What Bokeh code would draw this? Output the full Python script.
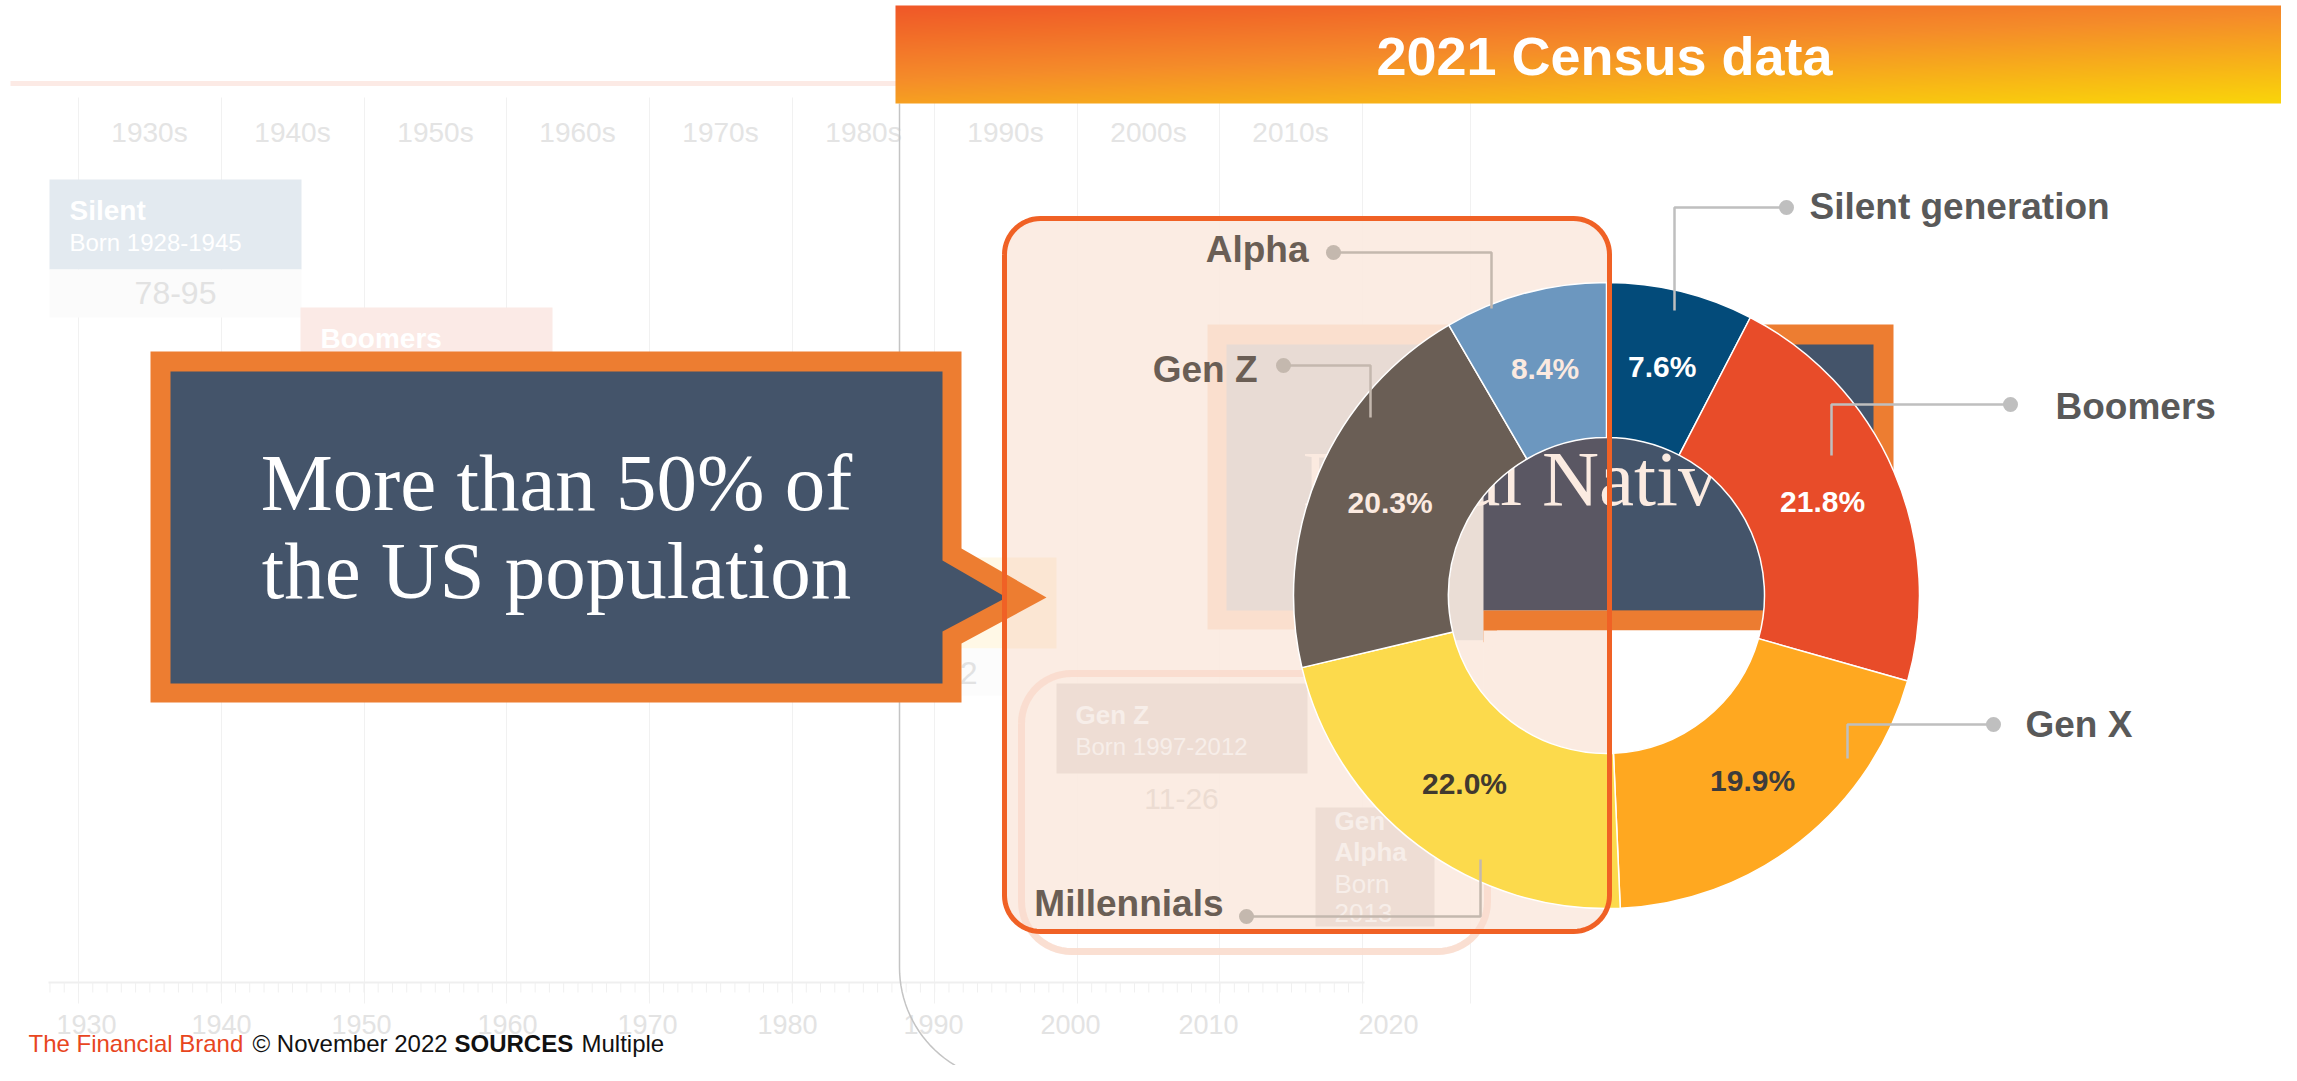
import numpy as np
from bokeh.plotting import figure
from bokeh.models import Range1d
from bokeh.core.properties import value
from bokeh.embed import file_html
from bokeh.resources import INLINE

# ---------------- data ----------------
generations = ["Silent generation", "Boomers", "Gen X", "Millennials", "Gen Z", "Alpha"]
shares = [7.6, 21.8, 19.9, 22.0, 20.3, 8.4]
slice_colors = ["#034B7A", "#E84C29", "#FFA820", "#FCDA4C", "#6A5E55", "#6C97BF"]
pct_text_colors = ["#FFFFFF", "#FFFFFF", "#3C3C3C", "#41392F", "#FBEAE0", "#FBEAE0"]
name_text_colors = ["#595959", "#595959", "#595959", "#6A5E55", "#6A5E55", "#6A5E55"]
leader_colors = ["#BFBFBF", "#BFBFBF", "#BFBFBF", "#C4B8AE", "#C4B8AE", "#C4B8AE"]

decade_labels = ["1930s", "1940s", "1950s", "1960s", "1970s", "1980s", "1990s", "2000s", "2010s"]
year_labels = ["1930", "1940", "1950", "1960", "1970", "1980", "1990", "2000", "2010", "2020"]
title_text = "2021 Census data"
callout_lines = ["More than 50% of", "the US population"]
footer_parts = ["The Financial Brand", "\u00a9 November 2022", "SOURCES", "Multiple"]

# ---------------- layout (screen pixel coordinates) ----------------
W, H = 2281, 1065
SANS = value("Liberation Sans")
SERIF = value("Liberation Serif")
CX, CY, R_OUT, R_IN = 1606, 595, 313, 158
R_MID = (R_OUT + R_IN) / 2


def sy(v):
    return -np.asarray(v, dtype=float)


p = figure(width=W, height=H, x_range=Range1d(0, W), y_range=Range1d(-H, 0),
           output_backend="svg", toolbar_location=None, x_axis_location=None,
           y_axis_location=None, min_border=0, outline_line_color=None,
           background_fill_color="white", border_fill_color="white")
p.grid.visible = False


def txt(x, base, s, size, color, align="left", bold=False, font=SANS, alpha=1.0):
    """base = alphabetic baseline in screen px; drawn with a 'middle' anchor."""
    k = 0.3375 if font == SERIF else 0.3465
    xs = list(np.atleast_1d(np.asarray(x, dtype=float)))
    ys = list(sy(np.atleast_1d(np.asarray(base, dtype=float)) - k * size))
    ss = s if isinstance(s, list) else [s]
    if len(xs) == 1 and len(ss) > 1:
        xs = xs * len(ss)
    if len(ys) == 1 and len(ss) > 1:
        ys = ys * len(ss)
    p.text(x=xs, y=ys, text=ss, text_font=font, text_font_size=f"{size}px",
           text_color=color, text_align=align, text_baseline="middle",
           text_font_style="bold" if bold else "normal", text_alpha=alpha)


def quad(l, r, t, b, color, alpha=1.0):
    p.quad(left=l, right=r, top=-t, bottom=-b, fill_color=color, fill_alpha=alpha, line_color=None)


def rrect(x0, y0, x1, y1, r, n=16):
    xs, ys = [], []
    for cx, cy, a0 in [(x0 + r, y0 + r, np.pi), (x1 - r, y0 + r, 1.5 * np.pi),
                       (x1 - r, y1 - r, 0.0), (x0 + r, y1 - r, 0.5 * np.pi)]:
        a = np.linspace(a0, a0 + 0.5 * np.pi, n)
        xs.extend(cx + r * np.cos(a))
        ys.extend(cy + r * np.sin(a))
    xs.append(xs[0])
    ys.append(ys[0])
    return np.array(xs), np.array(ys)


# ---------------- faded timeline background ----------------
p.line([10, 897], sy([83, 83]), line_color="#FCEAE5", line_width=5)
grid_x = [78, 221, 364, 506, 649, 792, 934, 1077, 1219, 1362, 1470]
p.segment(x0=grid_x, y0=-97, x1=grid_x, y1=-1003, line_color="#F1F1F1", line_width=1)
txt([g + 71 for g in grid_x[:9]], [142], decade_labels, 28, "#E4E4E4", align="center")

quad(49, 301, 179, 269, "#E3EAF0")
quad(49, 301, 269, 317, "#FBFBFB")
txt(69, 220, "Silent", 28, "#FFFFFF", bold=True)
txt(69, 250, "Born 1928-1945", 24, "#FFFFFF")
txt(175, 304, "78-95", 32, "#E2E2E2", align="center")
quad(300, 552, 307, 420, "#FBEAE6")
txt(320, 348, "Boomers", 28, "#FFFFFF", bold=True)
quad(930, 1056, 557, 648, "#FFF8E6")
quad(930, 1056, 648, 695, "#FCFCFC")
txt(977, 684, "26-42", 32, "#E2E2E2", align="right")

p.line([48, 1364], sy([982, 982]), line_color="#EFEFEF", line_width=2)
minor = [78 + (yr - 1930) * 14.27 for yr in range(1928, 2021)]
p.segment(x0=minor, y0=-982, x1=minor, y1=-992, line_color="#F0F0F0", line_width=1)
txt([86, 221, 361, 507, 647, 787, 933, 1070, 1208, 1388], [1033], year_labels, 27, "#E3E3E3", align="center")

a = np.linspace(np.pi, 0.5 * np.pi, 30)
fx = np.concatenate([[899, 899], 1013 + 114 * np.cos(a)])
fy = np.concatenate([[103, 967], 967 + 114 * np.sin(a)])
p.line(fx, sy(fy), line_color="#C4C4C4", line_width=1.5)

# ---------------- "Digital Native" box (behind) ----------------
quad(1207, 1893, 324, 629, "#ED7D31")
quad(1226, 1873, 344, 610, "#44546A")
txt(1752, 505, "Digital Native", 79, "#FBEBE1", align="right", font=SERIF)

# ---------------- translucent overlay ----------------
ox, oy = rrect(1004, 218, 1609, 931, 36)
p.patch(ox, sy(oy), fill_color="#FBEAE0", fill_alpha=0.9, line_color=None)
quad(1004, 1056, 557, 648, "#FBE6D3")

gx, gy = rrect(1021, 673, 1487, 951, 50)
p.line(gx, sy(gy), line_color="#FADCCD", line_width=7, line_alpha=0.9)
quad(1056, 1307, 683, 773, "#EEDDD4")
txt(1075, 724, "Gen Z", 26, "#F7EEE9", bold=True)
txt(1075, 754, "Born 1997-2012", 24, "#F7EEE9")
txt(1181, 809, "11-26", 30, "#ECDCD2", align="center")
quad(1315, 1434, 807, 926, "#EEDDD4")
txt(1334, [830, 861], ["Gen", "Alpha"], 26, "#F7EEE9", bold=True)
txt(1334, [893, 922], ["Born", "2013"], 26, "#F7EEE9")

# ---------------- donut hole content ----------------
quad(1448, 1483, 436, 640, "#EADDD5")
quad(1448, 1483, 640, 754, "#FBEBE1")
quad(1483, 1608, 436, 610, "#5A5763")
quad(1608, 1765, 436, 610, "#44546A")
p.patch([1483, 1765, 1765, 1497, 1483], sy([610, 610, 630, 630, 642]), fill_color="#EC7C31", line_color=None)
quad(1483, 1608, 630, 754, "#FBEBE1")
p.patch([1483, 1497, 1497, 1483], sy([642, 630, 642, 654]), fill_color="#FBEBE1", line_color=None)
quad(1608, 1765, 630, 754, "#FFFFFF")
txt(1717, 505, "tal Nativ", 79, "#FBEBE1", align="right", font=SERIF)

# ---------------- donut ----------------
frac = np.array(shares) / np.sum(shares)
cum = np.concatenate([[0.0], np.cumsum(frac)])
start = np.pi / 2 - 2 * np.pi * cum[:-1]
end = np.pi / 2 - 2 * np.pi * cum[1:]
p.annular_wedge(x=CX, y=-CY, inner_radius=R_IN, outer_radius=R_OUT,
                start_angle=list(start), end_angle=list(end), direction="clock",
                fill_color=slice_colors, line_color="white", line_width=1.5)

mid = np.pi * (cum[:-1] + cum[1:])
lx = CX + R_MID * np.sin(mid)
ly = CY - R_MID * np.cos(mid)
pct_labels = [f"{s:.1f}%" for s in shares]
p.text(x=list(lx), y=list(sy(ly)), text=pct_labels, text_font=SANS, text_font_size="30px",
       text_font_style="bold", text_color=pct_text_colors, text_align="center",
       text_baseline="middle")

# ---------------- callout ----------------
p.patch([150, 961, 961, 1046, 961, 961, 150], sy([351, 351, 548, 597, 643, 702, 702]),
        fill_color="#ED7D31", line_color=None)
p.patch([170, 942, 942, 1006, 942, 942, 170], sy([371, 371, 560, 597, 631, 683, 683]),
        fill_color="#44546A", line_color=None)
txt(556, [510, 598], callout_lines, 81, "#FFFFFF", align="center", font=SERIF)

# overlay border drawn over the donut
p.line(ox, sy(oy), line_color="#F06125", line_width=5)

# ---------------- leader lines and category labels ----------------
leader_x = [[1674, 1674, 1786], [1831, 1831, 2010], [1847, 1847, 1993],
            [1480, 1480, 1246], [1370, 1370, 1283], [1491, 1491, 1333]]
leader_y = [[310, 207, 207], [455, 404, 404], [758, 724, 724],
            [859, 916, 916], [417, 365, 365], [308, 252, 252]]
p.multi_line(xs=leader_x, ys=[list(sy(v)) for v in leader_y], line_color=leader_colors, line_width=2.5)
p.scatter(x=[v[-1] for v in leader_x], y=[-v[-1] for v in leader_y], size=15,
          fill_color=leader_colors, line_color=None)
name_x = [1809, 2055, 2025, 1223, 1257, 1308]
name_base = np.array([219, 419, 737, 916, 382, 262], dtype=float)
name_align = ["left", "left", "left", "right", "right", "right"]
p.text(x=name_x, y=list(sy(name_base - 0.3465 * 37)), text=generations, text_font=SANS,
       text_font_size="37px", text_font_style="bold", text_color=name_text_colors,
       text_align=name_align, text_baseline="middle")

# ---------------- header banner ----------------
bh, bw = 98, 1402
u = np.linspace(0, 1, bw)[None, :]
v = (1 - np.linspace(0, 1, bh))[:, None]
t = 0.4 * u + 0.6 * v
stops_t = [0.0, 0.45, 1.0]
stops_c = np.array([[240, 88, 40], [245, 140, 42], [250, 214, 10]], dtype=float)
img = np.empty((bh, bw), dtype=np.uint32)
view = img.view(dtype=np.uint8).reshape((bh, bw, 4))
for ch in range(3):
    view[:, :, ch] = np.interp(t, stops_t, stops_c[:, ch]).astype(np.uint8)
view[:, :, 3] = 255
p.image_rgba(image=[img], x=895, y=-103, dw=bw, dh=bh)
txt(1604, 74, title_text, 54, "#FFFFFF", align="center", bold=True)

# ---------------- footer ----------------
txt(28, 1051, footer_parts[0], 24, "#E8461E")
txt(252, 1051, footer_parts[1], 24, "#111111")
txt(454, 1051, footer_parts[2], 24, "#111111", bold=True)
txt(581, 1051, footer_parts[3], 24, "#111111")

open("out.html", "w").write(file_html(p, INLINE))
